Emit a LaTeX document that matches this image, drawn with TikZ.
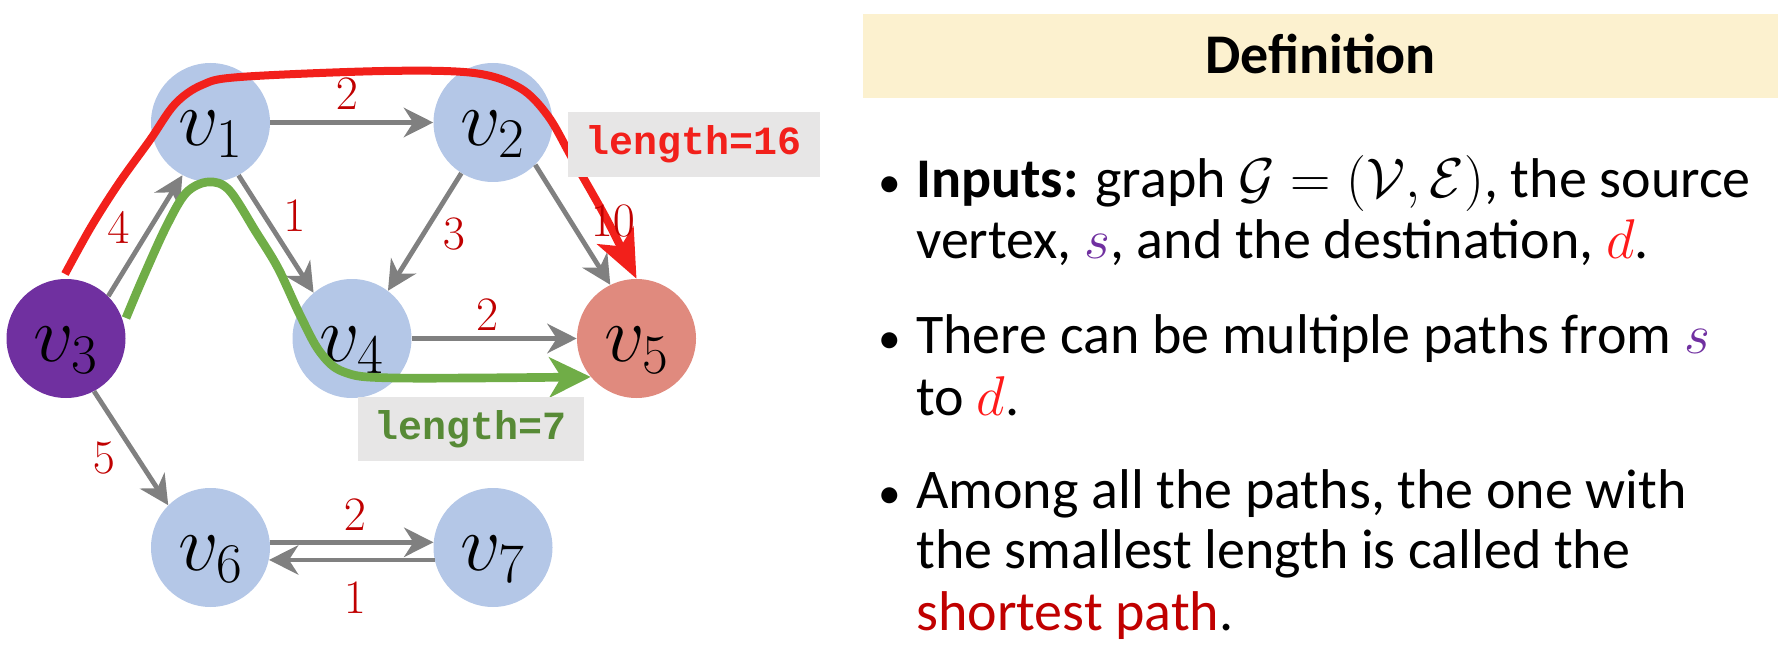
\RequirePackage{fix-cm}
\documentclass[tikz,border=0pt]{standalone}
\usepackage[no-math]{fontspec}
\setmainfont{Carlito}
\newfontfamily\monofont{Liberation Mono}
\usetikzlibrary{arrows.meta}

\definecolor{vblue}{HTML}{B4C7E7}
\definecolor{vpurple}{HTML}{7030A0}
\definecolor{vsalmon}{HTML}{E08A7E}
\definecolor{egray}{HTML}{808080}
\definecolor{wred}{HTML}{C00000}
\definecolor{pathred}{HTML}{F2201B}
\definecolor{pathgreen}{HTML}{70AD47}
\definecolor{txtgreen}{HTML}{578A36}
\definecolor{boxgray}{HTML}{E7E6E6}
\definecolor{hdrfill}{HTML}{FCF1CF}
\definecolor{dred}{HTML}{FF1A1A}

\begin{document}
\begin{tikzpicture}[x=0.75pt, y=-0.75pt,
  vtx/.style={circle, fill=vblue, minimum size=89.25pt, inner sep=0pt},
  vlab/.style={font=\fontsize{60}{62}\selectfont, yshift=-8.6pt, inner sep=0pt},
  gedge/.style={draw=egray, line width=3.6pt,
    -{Stealth[length=22pt, width=22pt, inset=7pt]}},
  weight/.style={text=wred, font=\fontsize{36}{38}\selectfont, inner sep=0pt},
  redpath/.style={draw=pathred, line width=6pt,
    -{Stealth[length=36pt, width=30pt, inset=9pt]}},
  greenpath/.style={draw=pathgreen, line width=6.5pt,
    -{Stealth[length=31pt, width=30pt, inset=9pt]}},
  lenbox/.style={fill=boxgray, inner sep=0pt, text height=22.5pt, text depth=7.5pt,
    font=\monofont\bfseries\fontsize{30}{32}\selectfont},
  txt/.style={anchor=base west, inner sep=0pt, font=\fontsize{42}{50}\selectfont},
  bul/.style={anchor=base, inner sep=0pt, font=\fontsize{34}{40}\selectfont}
]
\useasboundingbox (0,0) rectangle (1787,652);

% vertices
\node[vtx, label={[vlab]center:$v_1$}] (v1) at (210.5,122.5) {};
\node[vtx, label={[vlab]center:$v_2$}] (v2) at (493,122.5) {};
\node[vtx, fill=vpurple, label={[vlab]center:$v_3$}] (v3) at (66,338.5) {};
\node[vtx, label={[vlab]center:$v_4$}] (v4) at (352,338.5) {};
\node[vtx, fill=vsalmon, label={[vlab]center:$v_5$}] (v5) at (636.5,338.5) {};
\node[vtx, label={[vlab]center:$v_6$}] (v6) at (210.5,547.5) {};
\node[vtx, label={[vlab]center:$v_7$}] (v7) at (493,547.5) {};

% weighted edges
\draw[gedge] (v1) -- (v2);
\draw[gedge] (v3.45) -- (v1.242);
\draw[gedge] (v1.298) -- (v4.130);
\draw[gedge] (v2.238) -- (v4.53);
\draw[gedge] (v2.315) -- (v5.116);
\draw[gedge] (v4) -- (v5);
\draw[gedge] (v3.298) -- (v6.135);
\draw[gedge] (v6.5) -- (v7.175);
\draw[gedge] (v7.192) -- (v6.-12);

% the two highlighted paths
\coordinate (rs) at (65,274);
\coordinate (gs) at (126,318);
\draw[redpath] plot[smooth, tension=0.55] coordinates {(rs) (91,227) (119,183) (150,140)
  (175,104) (202,85) (240,77) (384,71) (474,73) (520,88) (548,116) (572,158)
  (606,218) (v5.north)};
\draw[greenpath] plot[smooth, tension=0.55] coordinates {(gs) (142,280) (166,227)
  (186,193) (208,182) (229,190) (256,232) (278,268) (300,315) (320,352) (344,372)
  (395,378) (v5.220)};

% path lengths
\node[lenbox, text=pathred, minimum width=189pt, minimum height=48.75pt]
  (len16) at (694,144.5) {length=16};
\node[lenbox, text=txtgreen, minimum width=169.5pt, minimum height=48pt]
  (len7) at (471,429) {length=7};

% edge weights
\node[weight] (w12) at (347,94) {$2$};
\node[weight] (w31) at (118.5,228) {$4$};
\node[weight] (w14) at (294.5,216) {$1$};
\node[weight] (w24) at (454,234) {$3$};
\node[weight] (w25) at (613,221) {$10$};
\node[weight] (w45) at (487,315) {$2$};
\node[weight] (w36) at (104,458) {$5$};
\node[weight] (w67) at (355,515) {$2$};
\node[weight] (w76) at (355,598) {$1$};

% definition panel
\node[fill=hdrfill, minimum width=686.25pt, minimum height=63pt, inner sep=0pt,
  text height=27pt, text depth=0pt, font=\bfseries\fontsize{42}{50}\selectfont]
  (hdr) at (1320.5,56) {Definition};

\node[bul] (b1) at (889.5,198) {\textbullet};
\node[txt] (t1) at (916,198) {\textbf{Inputs:} graph $\mathcal{G}=(\mathcal{V},\mathcal{E})$, the source};
\node[txt] (t2) at (916,258) {vertex, \textcolor{vpurple}{$s$}, and the destination, \textcolor{dred}{$d$}.};
\node[bul] (b2) at (889.5,353) {\textbullet};
\node[txt] (t3) at (916,353) {There can be multiple paths from \textcolor{vpurple}{$s$}};
\node[txt] (t4) at (916,415) {to \textcolor{dred}{$d$}.};
\node[bul] (b3) at (889.5,508) {\textbullet};
\node[txt] (t5) at (916,508) {Among all the paths, the one with};
\node[txt] (t6) at (916,568) {the smallest length is called the};
\node[txt] (t7) at (916,630) {\textcolor{wred}{shortest path}.};
\end{tikzpicture}
\end{document}
